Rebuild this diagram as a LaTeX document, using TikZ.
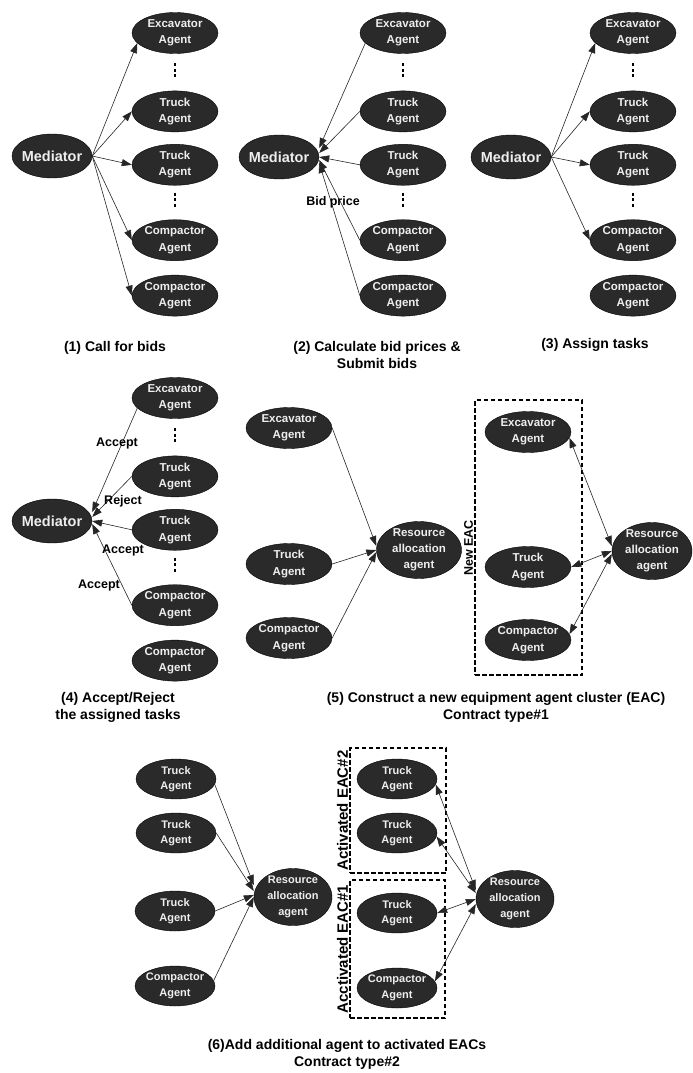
\documentclass[tikz,border=0pt]{standalone}
\usepackage{fontspec}
\setmainfont{Liberation Sans}
\usetikzlibrary{shapes.geometric, arrows.meta, positioning, fit}
\definecolor{agentgray}{RGB}{42,42,42}
\definecolor{agenttext}{RGB}{238,238,238}

\begin{document}
\begin{tikzpicture}[
      x=1pt, y=-1pt,
      >={Triangle[length=10pt,width=7pt]},
      agent/.style={ellipse, draw=black, fill=agentgray, text=agenttext,
                    inner sep=0pt, inner xsep=-1pt, minimum width=86pt, minimum height=41pt,
                    align=center, font=\bfseries\fontsize{11.5}{16.5}\selectfont},
      med/.style={agent, inner xsep=-5pt, minimum width=80pt, minimum height=44pt,
                  font=\bfseries\fontsize{14.5}{17}\selectfont},
      res/.style={agent, inner ysep=-2pt, minimum width=85pt, minimum height=57pt,
                  font=\bfseries\fontsize{11.5}{16}\selectfont},
      small/.style={agent, minimum width=80pt, minimum height=40pt,
                    font=\bfseries\fontsize{11}{15.5}\selectfont},
      arrow/.style={->, line width=0.6pt, black!85},
      both/.style={<->, line width=0.6pt, black!85},
      vdots/.style={line width=2.4pt, dash pattern=on 3pt off 2.5pt},
      caption/.style={align=center, font=\bfseries\fontsize{14}{17}\selectfont},
      lbl/.style={inner sep=0pt, font=\bfseries\fontsize{12.5}{15}\selectfont},
      eacbox/.style={draw, line width=1.6pt, dash pattern=on 4.5pt off 2.5pt, inner sep=0pt},
      eaclabel/.style={rotate=90, anchor=south, inner sep=1pt,
                       font=\bfseries\fontsize{15}{18}\selectfont},
  ]
    \fill[white] (0,0) rectangle (693,1073);
    \useasboundingbox (0,0) rectangle (693,1073);

    % (1) call for bids
    \node[med] (med1) at (52,156) {Mediator};
    \node[agent] (ex1) at (175,33) {Excavator\\Agent};
    \node[agent, below=37pt of ex1] (ta1) {Truck\\Agent};
    \node[agent, below=12pt of ta1] (tb1) {Truck\\Agent};
    \node[agent, below=34pt of tb1] (ca1) {Compactor\\Agent};
    \node[agent, below=14pt of ca1] (cb1) {Compactor\\Agent};
    \draw[vdots] ([yshift=-9.5pt]ex1.south) -- ([yshift=13.5pt]ta1.north);
    \draw[vdots] ([yshift=-7pt]tb1.south) -- ([yshift=13pt]ca1.north);
    \draw[arrow] (med1.east) -- (ex1.195);
    \draw[arrow] (med1.east) -- (ta1.west);
    \draw[arrow] (med1.east) -- (tb1.west);
    \draw[arrow] (med1.east) -- (ca1.west);
    \draw[arrow] (med1.east) -- (cb1.west);
    \node[caption] (cap1) at (115,348) {(1) Call for bids};

    % (2) bid prices
    \node[med] (med2) at (279,157) {Mediator};
    \node[agent] (ex2) at (403,33) {Excavator\\Agent};
    \node[agent, below=37pt of ex2] (ta2) {Truck\\Agent};
    \node[agent, below=12pt of ta2] (tb2) {Truck\\Agent};
    \node[agent, below=34pt of tb2] (ca2) {Compactor\\Agent};
    \node[agent, below=14pt of ca2] (cb2) {Compactor\\Agent};
    \draw[vdots] ([yshift=-9.5pt]ex2.south) -- ([yshift=13.5pt]ta2.north);
    \draw[vdots] ([yshift=-7pt]tb2.south) -- ([yshift=13pt]ca2.north);
    \draw[arrow] (ex2.195) -- ([yshift=9pt]med2.east);
    \draw[arrow] (ta2.west) -- ([yshift=4pt]med2.east);
    \draw[arrow] (tb2.west) -- (med2.east);
    \draw[arrow] (ca2.west) -- ([yshift=-3pt]med2.east);
    \draw[arrow] (cb2.west) -- ([yshift=-6pt]med2.east);
    \node[lbl] (bid) at (333,202) {Bid price};
    \node[caption] (cap2) at (377,355) {(2) Calculate bid prices \&\\Submit bids};

    % (3) assign tasks
    \node[med] (med3) at (511,157) {Mediator};
    \node[agent] (ex3) at (633,33) {Excavator\\Agent};
    \node[agent, below=37pt of ex3] (ta3) {Truck\\Agent};
    \node[agent, below=12pt of ta3] (tb3) {Truck\\Agent};
    \node[agent, below=34pt of tb3] (ca3) {Compactor\\Agent};
    \node[agent, below=14pt of ca3] (cb3) {Compactor\\Agent};
    \draw[vdots] ([yshift=-9.5pt]ex3.south) -- ([yshift=13.5pt]ta3.north);
    \draw[vdots] ([yshift=-7pt]tb3.south) -- ([yshift=13pt]ca3.north);
    \draw[arrow] (med3.east) -- (ex3.195);
    \draw[arrow] (med3.east) -- (ta3.west);
    \draw[arrow] (med3.east) -- (tb3.west);
    \draw[arrow] (med3.east) -- (ca3.west);
    \node[caption] (cap3) at (595,345) {(3) Assign tasks};

    % (4) accept / reject
    \node[med] (med4) at (52,521) {Mediator};
    \node[agent] (ex4) at (175,398) {Excavator\\Agent};
    \node[agent, below=37pt of ex4] (ta4) {Truck\\Agent};
    \node[agent, below=12pt of ta4] (tb4) {Truck\\Agent};
    \node[agent, below=34pt of tb4] (ca4) {Compactor\\Agent};
    \node[agent, below=14pt of ca4] (cb4) {Compactor\\Agent};
    \draw[vdots] ([yshift=-9.5pt]ex4.south) -- ([yshift=13.5pt]ta4.north);
    \draw[vdots] ([yshift=-7pt]tb4.south) -- ([yshift=13pt]ca4.north);
    \draw[arrow] (ex4.195) -- ([yshift=9pt]med4.east);
    \draw[arrow] (ta4.west) -- ([yshift=4pt]med4.east);
    \draw[arrow] (tb4.west) -- (med4.east);
    \draw[arrow] (ca4.west) -- ([yshift=-3pt]med4.east);
    \node[lbl] (acc1) at (117,443) {Accept};
    \node[lbl] (rej) at (123,501) {Reject};
    \node[lbl] (acc2) at (123,550) {Accept};
    \node[lbl] (acc3) at (99,585) {Accept};
    \node[caption] (cap4) at (118,707) {(4) Accept/Reject\\the assigned tasks};

    % (5) new EAC, contract type 1
    \node[agent] (ex5) at (289,428) {Excavator\\Agent};
    \node[agent] (tr5) at (289,564) {Truck\\Agent};
    \node[agent] (cp5) at (289,638) {Compactor\\Agent};
    \node[res] (ra5) at (419,550) {Resource\\allocation\\agent};
    \node[eacbox, fit={(475,400)(582,675)}] (eac) {};
    \node[eaclabel, font=\bfseries\fontsize{12.5}{15}\selectfont] (neweac) at ([yshift=-10.5pt]eac.west) {New EAC};
    \node[agent] (nex) at (528,432) {Excavator\\Agent};
    \node[agent] (ntr) at (528,567) {Truck\\Agent};
    \node[agent] (ncp) at (528,640) {Compactor\\Agent};
    \node[res, minimum width=80pt] (rb5) at (652,551) {Resource\\allocation\\agent};
    \draw[arrow] (ex5.east) -- ([yshift=4pt]ra5.west);
    \draw[arrow] (tr5.east) -- (ra5.west);
    \draw[arrow] (cp5.east) -- ([yshift=-2pt]ra5.west);
    \draw[both] (nex.-8) -- ([yshift=5pt]rb5.west);
    \draw[both] (ntr.east) -- (rb5.west);
    \draw[both] (ncp.8) -- ([yshift=-3pt]rb5.west);
    \node[caption] (cap5) at (496,707) {(5) Construct a new equipment agent cluster (EAC)\\Contract type\#1};

    % (6) activated EACs, contract type 2
    \node[small] (ta6) at (176,779) {Truck\\Agent};
    \node[small] (tb6) at (176,833) {Truck\\Agent};
    \node[small] (tc6) at (175,911) {Truck\\Agent};
    \node[small] (cp6) at (175,986) {Compactor\\Agent};
    \node[res, minimum width=78pt, font=\bfseries\fontsize{11}{16}\selectfont] (ra6) at (293,897) {Resource\\allocation\\agent};
    \node[eacbox, fit={(350,748)(446,873)}] (eac2) {};
    \node[eacbox, fit={(350,880)(445,1018)}] (eac1) {};
    \node[eaclabel] (lab2) at (eac2.west) {Activated EAC\#2};
    \node[eaclabel] (lab1) at (eac1.west) {Acctivated EAC\#1};
    \node[small] (ua6) at (397,779) {Truck\\Agent};
    \node[small] (ub6) at (397,833) {Truck\\Agent};
    \node[small] (uc6) at (397,913) {Truck\\Agent};
    \node[small] (ud6) at (397,988) {Compactor\\Agent};
    \node[res, minimum width=78pt, font=\bfseries\fontsize{11}{16}\selectfont] (rb6) at (515,899) {Resource\\allocation\\agent};
    \draw[arrow] (ta6.-8) -- ([yshift=12pt]ra6.west);
    \draw[arrow] (tb6.east) -- ([yshift=6pt]ra6.west);
    \draw[arrow] (tc6.east) -- ([yshift=2pt]ra6.west);
    \draw[arrow] (cp6.8) -- (ra6.west);
    \draw[both] (ua6.-8) -- ([yshift=9pt]rb6.west);
    \draw[both] (ub6.-5) -- ([yshift=6pt]rb6.west);
    \draw[both] (uc6.east) -- (rb6.west);
    \draw[both] (ud6.10) -- ([yshift=-5pt]rb6.west);
    \node[caption] (cap6) at (347,1054) {(6)Add additional agent to activated EACs\\Contract type\#2};

  \end{tikzpicture}
\end{document}
